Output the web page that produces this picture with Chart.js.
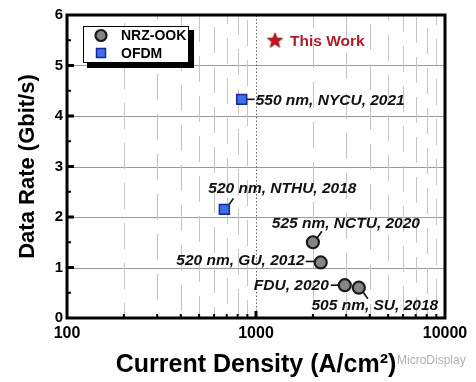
<!DOCTYPE html>
<html><head><meta charset="utf-8">
<script src="https://cdn.jsdelivr.net/npm/chart.js@4.4.0/dist/chart.umd.min.js"></script>
<style>html,body{margin:0;padding:0;background:#fff;}#wrap{width:476px;height:382px;}</style>
</head><body><div id="wrap"><canvas id="c" width="476" height="382"></canvas></div>
<script>
// ---- data ----
const xTickLabels = [100, 1000, 10000];
const yTickLabels = [0, 1, 2, 3, 4, 5, 6];
const nrzCurrent = [2000, 2200, 2950, 3500];
const nrzRate = [1.5, 1.1, 0.65, 0.6];
const nrzLabels = ['525 nm, NCTU, 2020', '520 nm, GU, 2012', 'FDU, 2020', '505 nm, SU, 2018'];
const ofdmCurrent = [840, 680];
const ofdmRate = [4.33, 2.15];
const ofdmLabels = ['550 nm, NYCU, 2021', '520 nm, NTHU, 2018'];
const workCurrent = [1260];
const workRate = [5.5];
const workLabels = ['This Work'];

// ---- label layout (offsets from the point, in px) ----
const nrzLayout = [
  {tx: 33, ty: -20, align: 'center', lead: [4, -4, 9, -11]},
  {tx: -16, ty: -3, align: 'right', lead: [-6, -1, -15, -1]},
  {tx: -16, ty: 0, align: 'right', lead: [-6, 0, -14, 0]},
  {tx: 16, ty: 17, align: 'center', lead: [4, 4, 9, 11]}
];
const ofdmLayout = [
  {tx: 14, ty: 0, align: 'left', lead: [5, 0, 13, 0]},
  {tx: 58, ty: -22, align: 'center', lead: [4, -4, 9, -11]}
];
const workLayout = [{tx: 15, ty: 0, align: 'left', lead: null}];

const FONT = "'Liberation Sans', Arial, sans-serif";

// star point image
const star = document.createElement('canvas');
star.width = 17; star.height = 17;
(function(){
  const g = star.getContext('2d');
  g.beginPath();
  const cx = 8.5, cy = 9, R = 8, r = 3.4;
  for (let i = 0; i < 10; i++) {
    const ang = -Math.PI / 2 + i * Math.PI / 5;
    const rad = i % 2 === 0 ? R : r;
    const px = cx + rad * Math.cos(ang), py = cy + rad * Math.sin(ang);
    i === 0 ? g.moveTo(px, py) : g.lineTo(px, py);
  }
  g.closePath();
  g.fillStyle = '#c8141e'; g.fill();
  g.strokeStyle = '#7a0a0e'; g.lineWidth = 0.8; g.stroke();
})();

const toPts = (xs, ys) => xs.map((v, i) => ({x: v, y: ys[i]}));

const decor = {
  id: 'decor',
  beforeDatasetsDraw(chart) {
    const {ctx, chartArea: a, scales: {x, y}} = chart;
    ctx.save();
    // horizontal grid
    ctx.strokeStyle = '#9a9a9a'; ctx.lineWidth = 1;
    yTickLabels.forEach(v => {
      if (v === 0 || v === 6) return;
      const py = Math.round(y.getPixelForValue(v)) + 0.5;
      ctx.beginPath(); ctx.moveTo(a.left, py); ctx.lineTo(a.right, py); ctx.stroke();
    });
    // vertical minor grid
    ctx.strokeStyle = '#c4c4c4'; ctx.setLineDash([26, 14]);
    x.ticks.forEach((t, i) => {
      if (xTickLabels.includes(t.value)) return;
      const px = Math.round(x.getPixelForValue(t.value)) + 0.5;
      ctx.lineDashOffset = (i * 11) % 40;
      ctx.beginPath(); ctx.moveTo(px, a.bottom); ctx.lineTo(px, a.top); ctx.stroke();
    });
    // dotted at 1000
    ctx.setLineDash([1.5, 2]); ctx.lineDashOffset = 0; ctx.strokeStyle = '#666';
    const p1000 = Math.round(x.getPixelForValue(1000)) + 0.5;
    ctx.beginPath(); ctx.moveTo(p1000, a.bottom); ctx.lineTo(p1000, a.top); ctx.stroke();
    ctx.setLineDash([]);
    // leader lines
    ctx.strokeStyle = '#111'; ctx.lineWidth = 1.6;
    const leaders = (meta, layout) => meta.data.forEach((el, i) => {
      const L = layout[i].lead; if (!L) return;
      ctx.beginPath(); ctx.moveTo(el.x + L[0], el.y + L[1]); ctx.lineTo(el.x + L[2], el.y + L[3]); ctx.stroke();
    });
    leaders(chart.getDatasetMeta(0), nrzLayout);
    leaders(chart.getDatasetMeta(1), ofdmLayout);
    ctx.restore();
  },
  afterDatasetsDraw(chart) {
    const {ctx, chartArea: a, scales: {x, y}} = chart;
    ctx.save();
    // frame
    ctx.strokeStyle = '#000'; ctx.lineWidth = 3;
    ctx.strokeRect(a.left, a.top, a.right - a.left, a.bottom - a.top);
    // y ticks
    for (let v = 0.5; v < 6; v += 0.5) {
      const py = y.getPixelForValue(v);
      const major = Number.isInteger(v);
      ctx.lineWidth = major ? 3 : 2;
      ctx.beginPath(); ctx.moveTo(a.left, py); ctx.lineTo(a.left + (major ? 7 : 4), py); ctx.stroke();
    }
    // x ticks
    x.ticks.forEach(t => {
      if (t.value === 100 || t.value === 10000) return;
      const px = x.getPixelForValue(t.value);
      const major = xTickLabels.includes(t.value);
      ctx.lineWidth = major ? 3 : 2;
      ctx.beginPath(); ctx.moveTo(px, a.bottom); ctx.lineTo(px, a.bottom - (major ? 7 : 4)); ctx.stroke();
    });
    // point labels
    const labels = (meta, texts, layout, color, style) => meta.data.forEach((el, i) => {
      const L = layout[i];
      ctx.font = style + ' 15.5px ' + FONT;
      ctx.fillStyle = color; ctx.textAlign = L.align; ctx.textBaseline = 'middle';
      ctx.fillText(texts[i], el.x + L.tx, el.y + L.ty + 1);
    });
    labels(chart.getDatasetMeta(0), nrzLabels, nrzLayout, '#111', 'italic bold');
    labels(chart.getDatasetMeta(1), ofdmLabels, ofdmLayout, '#111', 'italic bold');
    labels(chart.getDatasetMeta(2), workLabels, workLayout, '#b01c26', 'bold');
    // legend
    const lx = 83, ly = 26, lw = 106, lh = 37;
    ctx.fillStyle = '#000'; ctx.fillRect(lx + 4, ly + 4, lw + 1, lh + 1);
    ctx.fillStyle = '#fff'; ctx.fillRect(lx, ly, lw, lh);
    ctx.lineWidth = 1; ctx.strokeStyle = '#000'; ctx.strokeRect(lx + 0.5, ly + 0.5, lw - 1, lh - 1);
    const ds = chart.data.datasets;
    ctx.beginPath(); ctx.arc(lx + 18, ly + 9.5, 5.5, 0, Math.PI * 2);
    ctx.fillStyle = ds[0].backgroundColor; ctx.fill();
    ctx.lineWidth = 2.2; ctx.strokeStyle = ds[0].borderColor; ctx.stroke();
    ctx.fillStyle = ds[1].backgroundColor; ctx.fillRect(lx + 13.5, ly + 22.5, 9, 9);
    ctx.lineWidth = 1.5; ctx.strokeStyle = ds[1].borderColor; ctx.strokeRect(lx + 13.5, ly + 22.5, 9, 9);
    ctx.fillStyle = '#000'; ctx.font = 'bold 14px ' + FONT; ctx.textAlign = 'left'; ctx.textBaseline = 'middle';
    ctx.fillText(ds[0].label, lx + 38, ly + 10);
    ctx.fillText(ds[1].label, lx + 38, ly + 28);
    // watermark
    ctx.fillStyle = 'rgba(150,150,150,0.75)'; ctx.font = '12px ' + FONT;
    ctx.fillText('MicroDisplay', 397, 361);
    ctx.restore();
  }
};

new Chart(document.getElementById('c'), {
  type: 'scatter',
  data: {
    datasets: [
      {label: 'NRZ-OOK', data: toPts(nrzCurrent, nrzRate), pointStyle: 'circle', pointRadius: 6,
       backgroundColor: '#858585', borderColor: '#1a1a1a', borderWidth: 2.2},
      {label: 'OFDM', data: toPts(ofdmCurrent, ofdmRate), pointStyle: 'rect', pointRadius: 7,
       backgroundColor: '#3d6fe6', borderColor: '#14289a', borderWidth: 1.5},
      {label: 'This Work', data: toPts(workCurrent, workRate), pointStyle: star, pointRadius: 8,
       backgroundColor: '#c8141e', borderColor: '#c8141e'}
    ]
  },
  options: {
    responsive: false, animation: false, devicePixelRatio: 1,
    layout: {padding: {top: 15, right: 31, left: 0, bottom: 0}},
    plugins: {legend: {display: false}, tooltip: {enabled: false}},
    scales: {
      x: {
        type: 'logarithmic', min: 100, max: 10000,
        grid: {display: false, drawTicks: false}, border: {display: false},
        afterBuildTicks: s => {
          const t = [];
          for (let d = 100; d < 10000; d *= 10) for (let m = 1; m < 10; m++) t.push({value: m * d});
          t.push({value: 10000});
          s.ticks = t;
        },
        ticks: {autoSkip: false, maxRotation: 0, padding: 6, color: '#000',
          font: {family: FONT, weight: 'bold', size: 16},
          callback: v => xTickLabels.includes(v) ? String(v) : ''},
        title: {display: true, text: 'Current Density (A/cm²)', color: '#000',
          font: {family: FONT, weight: 'bold', size: 25}, padding: {top: 4, bottom: 2}},
        afterFit: s => { s.height = 64; }
      },
      y: {
        min: 0, max: 6,
        grid: {display: false, drawTicks: false}, border: {display: false},
        afterBuildTicks: s => { s.ticks = yTickLabels.map(v => ({value: v})); },
        ticks: {padding: 4, color: '#000', font: {family: FONT, weight: 'bold', size: 15}},
        title: {display: true, text: 'Data Rate (Gbit/s)', color: '#000',
          font: {family: FONT, weight: 'bold', size: 22}, padding: {top: 15, bottom: 0}},
        afterFit: s => { s.width = 67; }
      }
    }
  },
  plugins: [decor]
});
</script></body></html>
